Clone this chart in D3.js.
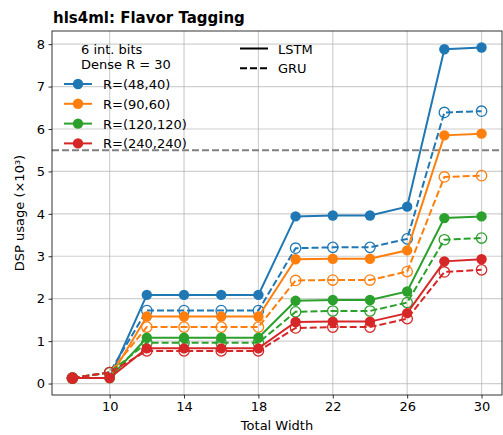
<!DOCTYPE html>
<html>
<head>
<meta charset="utf-8">
<script src="https://cdn.jsdelivr.net/npm/d3@7"></script>
<style>
  body { margin: 0; background: #fff; }
  text { font-family: "DejaVu Sans", sans-serif; }
</style>
</head>
<body>
<svg id="chart" width="503" height="435"></svg>
<script>
// Total width values on the x axis
const widths = [8, 10, 12, 14, 16, 18, 20, 22, 24, 26, 28, 30];
const xTicks = [10, 14, 18, 22, 26, 30];
const yTicks = [0, 1, 2, 3, 4, 5, 6, 7, 8];

const reuseLabels = ['R=(48,40)', 'R=(90,60)', 'R=(120,120)', 'R=(240,240)'];
const colors = ['#1f77b4', '#ff7f0e', '#2ca02c', '#d62728'];

// DSP usage (x10^3), LSTM
const lstm48 = [0.13, 0.13, 2.09, 2.09, 2.09, 2.09, 3.94, 3.96, 3.96, 4.17, 7.88, 7.92];
const lstm90 = [0.13, 0.13, 1.58, 1.58, 1.58, 1.58, 2.93, 2.94, 2.94, 3.14, 5.85, 5.89];
const lstm120 = [0.13, 0.13, 1.08, 1.08, 1.08, 1.08, 1.95, 1.97, 1.97, 2.17, 3.90, 3.94];
const lstm240 = [0.13, 0.13, 0.83, 0.83, 0.83, 0.83, 1.45, 1.46, 1.46, 1.66, 2.88, 2.93];

// DSP usage (x10^3), GRU
const gru48 = [0.13, 0.26, 1.72, 1.72, 1.72, 1.72, 3.19, 3.21, 3.21, 3.41, 6.39, 6.42];
const gru90 = [0.13, 0.26, 1.33, 1.33, 1.33, 1.33, 2.43, 2.44, 2.44, 2.64, 4.87, 4.90];
const gru120 = [0.13, 0.26, 0.96, 0.96, 0.96, 0.96, 1.69, 1.71, 1.71, 1.91, 3.39, 3.43];
const gru240 = [0.13, 0.26, 0.77, 0.77, 0.77, 0.77, 1.31, 1.33, 1.33, 1.53, 2.63, 2.68];

const lstmSeries = [lstm48, lstm90, lstm120, lstm240];
const gruSeries = [gru48, gru90, gru120, gru240];
const threshold = 5.5;

const svg = d3.select('#chart');
const margin = { top: 31, right: 1, bottom: 40, left: 52 };
const width = 503 - margin.left - margin.right;
const height = 435 - margin.top - margin.bottom;
const g = svg.append('g').attr('transform', `translate(${margin.left},${margin.top})`);

const x = d3.scaleLinear().domain([6.9, 31.1]).range([0, width]);
const y = d3.scaleLinear().domain([-0.27, 8.31]).range([height, 0]);

// grid
g.append('g').selectAll('line').data(xTicks).join('line')
    .attr('x1', d => x(d)).attr('x2', d => x(d))
    .attr('y1', 0).attr('y2', height)
    .attr('stroke', '#b0b0b0').attr('stroke-opacity', 0.6).attr('stroke-width', 1.2);
g.append('g').selectAll('line').data(yTicks).join('line')
    .attr('y1', d => y(d)).attr('y2', d => y(d))
    .attr('x1', 0).attr('x2', width)
    .attr('stroke', '#b0b0b0').attr('stroke-opacity', 0.6).attr('stroke-width', 1.2);

// threshold line
g.append('line')
    .attr('x1', 0).attr('x2', width)
    .attr('y1', y(threshold)).attr('y2', y(threshold))
    .attr('stroke', '#808080').attr('stroke-width', 2)
    .attr('stroke-dasharray', '7,3');

const line = d3.line().x((d, i) => x(widths[i])).y(d => y(d));

colors.forEach((c, k) => {
    g.append('path').datum(lstmSeries[k])
        .attr('d', line).attr('fill', 'none')
        .attr('stroke', c).attr('stroke-width', 2);
    g.append('g').selectAll('circle').data(lstmSeries[k]).join('circle')
        .attr('cx', (d, i) => x(widths[i])).attr('cy', d => y(d)).attr('r', 5.2)
        .attr('fill', c);
    g.append('path').datum(gruSeries[k])
        .attr('d', line).attr('fill', 'none')
        .attr('stroke', c).attr('stroke-width', 2)
        .attr('stroke-dasharray', '7,3');
    g.append('g').selectAll('circle').data(gruSeries[k]).join('circle')
        .attr('cx', (d, i) => x(widths[i])).attr('cy', d => y(d)).attr('r', 5.2)
        .attr('fill', 'none').attr('stroke', c).attr('stroke-width', 1.3);
});

// axes
const xAxis = g.append('g').attr('transform', `translate(0,${height})`)
    .call(d3.axisBottom(x).tickValues(xTicks).tickSize(3.5).tickPadding(3.5));
const yAxis = g.append('g')
    .call(d3.axisLeft(y).tickValues(yTicks).tickSize(3.5).tickPadding(3.5));
[xAxis, yAxis].forEach(a => {
    a.select('.domain').remove();
    a.selectAll('text').attr('font-size', 13).attr('fill', '#000')
        .attr('font-family', '"DejaVu Sans", sans-serif');
    a.selectAll('line').attr('stroke', '#000').attr('stroke-width', 0.8);
});
g.append('rect').attr('width', width).attr('height', height)
    .attr('fill', 'none').attr('stroke', '#000').attr('stroke-width', 0.8);

// labels
svg.append('text').attr('x', 53).attr('y', 23)
    .attr('font-size', 15).attr('font-weight', 'bold').text('hls4ml: Flavor Tagging');
svg.append('text').attr('x', margin.left + width / 2).attr('y', 430)
    .attr('text-anchor', 'middle').attr('font-size', 13).text('Total Width');
svg.append('text')
    .attr('transform', `translate(24,${margin.top + height / 2}) rotate(-90)`)
    .attr('text-anchor', 'middle').attr('font-size', 13)
    .text('DSP usage (×10³)');

// legend
const leg = svg.append('g');
leg.append('text').attr('x', 81).attr('y', 54).attr('font-size', 13).text('6 int. bits');
leg.append('text').attr('x', 81).attr('y', 69).attr('font-size', 13).text('Dense R = 30');
reuseLabels.forEach((lab, k) => {
    const ly = 84 + k * 19.8;
    leg.append('line').attr('x1', 64).attr('x2', 92).attr('y1', ly).attr('y2', ly)
        .attr('stroke', colors[k]).attr('stroke-width', 2);
    leg.append('circle').attr('cx', 78).attr('cy', ly).attr('r', 5.2).attr('fill', colors[k]);
    leg.append('text').attr('x', 103).attr('y', ly + 5).attr('font-size', 13).text(lab);
});
[['LSTM', null], ['GRU', '7,3']].forEach(([lab, dash], k) => {
    const ly = 48.5 + k * 19.8;
    leg.append('line').attr('x1', 240).attr('x2', 268).attr('y1', ly).attr('y2', ly)
        .attr('stroke', '#000').attr('stroke-width', 2)
        .attr('stroke-dasharray', dash);
    leg.append('text').attr('x', 278).attr('y', ly + 5).attr('font-size', 13).text(lab);
});
</script>
</body>
</html>
